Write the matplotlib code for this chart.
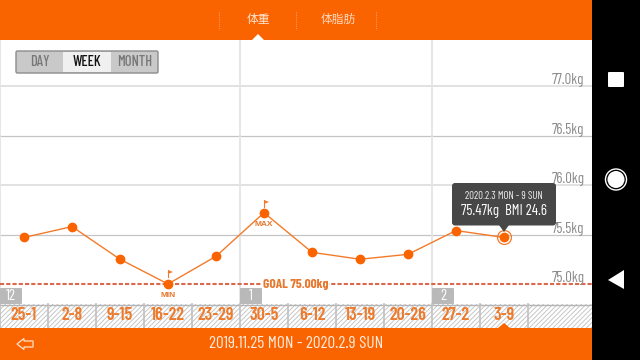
import matplotlib
matplotlib.use("Agg")
import matplotlib.pyplot as plt
from matplotlib.patches import Rectangle, FancyBboxPatch, Polygon, Circle

plt.rcParams['font.family'] = ['Barlow Condensed', 'Liberation Sans', 'Noto Sans CJK JP', 'DejaVu Sans']
plt.rcParams['hatch.linewidth'] = 0.7

weeks = ["25-1", "2-8", "9-15", "16-22", "23-29", "30-5", "6-12", "13-19", "20-26", "27-2", "3-9"]
weights = [75.47, 75.58, 75.25, 75.00, 75.28, 75.72, 75.32, 75.25, 75.30, 75.54, 75.47]
y_ticks = [75.0, 75.5, 76.0, 76.5, 77.0]
y_labels = ["75.0kg", "75.5kg", "76.0kg", "76.5kg", "77.0kg"]
goal = 75.0
month_starts = [(0, "12"), (5, "1"), (9, "2")]
tabs = ["体重", "体脂肪"]
modes = ["DAY", "WEEK", "MONTH"]

ORANGE = "#fa6400"
LINE = "#f47a2a"
W, H = 640, 360

fig = plt.figure(figsize=(6.4, 3.6), dpi=100)
fig.patch.set_facecolor("white")

# chart area, pixel box x 0-592, y 40-304
ax = fig.add_axes([0, 56/H, 592/W, 264/H])
ax.set_xlim(-0.5, 11.833)
ax.set_ylim(74.798, 77.465)
for s in ax.spines.values():
    s.set_visible(False)
ax.tick_params(left=False, bottom=False, labelleft=False, labelbottom=False)

for t in y_ticks[1:]:
    lw = 1.4 if t in (76.0, 77.0) else 0.9
    c = "#e2e2e2" if t in (76.0, 77.0) else "#c4c4c4"
    ax.axhline(t, color=c, lw=lw, zorder=1)
for i, _ in month_starts:
    ax.axvline(i - 0.5, color="#e4e4e4", lw=1.3, zorder=1)

ax.axhline(goal, color="#d9694a", lw=1.5, ls=(0, (2, 1)), zorder=2)
ax.plot(range(len(weeks)), weights, color=LINE, lw=1.0, marker="o", ms=6.0,
        mfc=ORANGE, mec=ORANGE, zorder=4, clip_on=False)
ax.plot(10, weights[10], marker="o", ms=10, mfc="none", mec=LINE, mew=0.9, zorder=5)

for t, lab in zip(y_ticks, y_labels):
    ax.annotate(lab, (584.5/592, t), xycoords=("axes fraction", "data"), xytext=(0, -1),
                textcoords="offset points", ha="right", va="bottom", fontsize=10.7, color="#8a8a8a", zorder=3)

mark_font = ['Liberation Sans', 'DejaVu Sans']
ax.text(5.0, 75.6, "MAX", color="#e8772e", fontsize=6, fontweight="bold", ha="center", va="center", zorder=6, family=mark_font)
ax.text(3.0, 74.88, "MIN", color="#e8772e", fontsize=6, fontweight="bold", ha="center", va="center", zorder=6, family=mark_font)
ax.text(4.97, 75.0, "GOAL 75.00kg", color="#e8772e", fontsize=9.6, fontweight="bold", ha="left", va="center",
        zorder=6, bbox=dict(fc="white", ec="none", pad=1.0))

# overlay in screen pixels for the app furniture
ui = fig.add_axes([0, 0, 1, 1], facecolor="none")
ui.set_xlim(0, W)
ui.set_ylim(H, 0)
ui.axis("off")

ui.add_patch(Rectangle((0, 0), W, 40, fc=ORANGE, ec="none"))
ui.add_patch(Polygon([(252, 40), (258, 34), (264, 40)], fc="white", ec="none"))
for x in (219, 296, 376):
    ui.plot([x, x], [12, 29], color="#fb9a5c", lw=0.8, ls=(0, (1, 1)))
ui.text(258, 19.5, tabs[0], color="#ffe8d8", fontsize=8.5, ha="center", va="center", family=['Noto Sans CJK JP'])
ui.text(338, 19.5, tabs[1], color="#ffd9c0", fontsize=8.5, ha="center", va="center", family=['Noto Sans CJK JP'])

# DAY/WEEK/MONTH switch
ui.add_patch(FancyBboxPatch((16, 51), 142, 22, boxstyle="round,pad=0,rounding_size=1.5", fc="#c9c9c9", ec="#8c8c8c", lw=1))
ui.add_patch(Rectangle((63, 52), 48, 20, fc="#f0f0f0", ec="none"))
for x, m, c in zip((40, 87, 135), modes, ("#777777", "#111111", "#777777")):
    ui.text(x, 62, m, color=c, fontsize=10.5, fontweight="medium", ha="center", va="center")

# bottom week strip
ui.add_patch(Rectangle((0, 304), 592, 24, fc="white", ec="#c6c6c6", lw=0, hatch="///////", zorder=2))
ui.plot([0, 592], [304.5, 304.5], color="#b4b4b4", lw=1, zorder=3)
for i in range(len(weeks) + 1):
    ui.plot([i*48, i*48], [304, 328], color="#c0c0c0", lw=1.2, zorder=3)
for i, wk in enumerate(weeks):
    ui.text(24 + i*48, 316, wk, color="#ee7a2c", fontsize=13, fontweight="semibold", ha="center", va="center", zorder=4)

for i, lab in month_starts:
    x = i*48
    ui.add_patch(FancyBboxPatch((x, 288), 22, 16, boxstyle="round,pad=0,rounding_size=1", fc="#b9b9b9", ec="none", zorder=4))
    ui.text(x + 11, 296, lab, color="white", fontsize=11, ha="center", va="center", zorder=5)

# flags on the min and max points
for px, py in ((168, 270), (264, 200)):
    ui.plot([px, px], [py, py + 7], color=LINE, lw=0.8, zorder=6)
    ui.add_patch(Polygon([(px, py), (px + 5, py + 2), (px, py + 4)], fc=LINE, ec="none", zorder=6))

# bottom bar
ui.add_patch(Rectangle((0, 328), W, 32, fc=ORANGE, ec="none", zorder=4))
ui.add_patch(Polygon([(498, 328), (504, 323), (510, 328)], fc=ORANGE, ec="none", zorder=5))
ui.text(296, 344, "2019.11.25 MON - 2020.2.9 SUN", color="#ffeadb", fontsize=12.5, ha="center", va="center", zorder=5)
ui.add_patch(Polygon([(17, 344), (24, 338.5), (24, 341), (33, 341), (33, 347), (24, 347), (24, 349.5)],
                     fc="none", ec="#ffe0cc", lw=0.9, zorder=5))

# tooltip
ui.add_patch(FancyBboxPatch((452, 183), 104, 42.5, boxstyle="round,pad=0,rounding_size=3", fc="#474747", ec="none", zorder=7))
ui.add_patch(Polygon([(499, 225), (509, 225), (504, 232)], fc="#474747", ec="none", zorder=7))
ui.text(504, 196, "2020.2.3 MON - 9 SUN", color="#eeeeee", fontsize=7.7, ha="center", va="center", zorder=8)
ui.text(504, 211.5, "75.47kg  BMI 24.6", color="white", fontsize=10.7, ha="center", va="center", zorder=8)

# android nav bar
ui.add_patch(Rectangle((592, 0), 48, H, fc="black", ec="none", zorder=9))
ui.add_patch(FancyBboxPatch((608, 72), 16, 15, boxstyle="round,pad=0,rounding_size=1", fc="white", ec="none", zorder=10))
ui.add_patch(Circle((616, 179.5), 10.5, fc="black", ec="white", lw=1, zorder=10))
ui.add_patch(Circle((616, 179.5), 8.5, fc="white", ec="none", zorder=10))
ui.add_patch(Polygon([(608, 280), (624, 270), (624, 289)], fc="white", ec="none", zorder=10))

fig.savefig("out.png", dpi=100)
